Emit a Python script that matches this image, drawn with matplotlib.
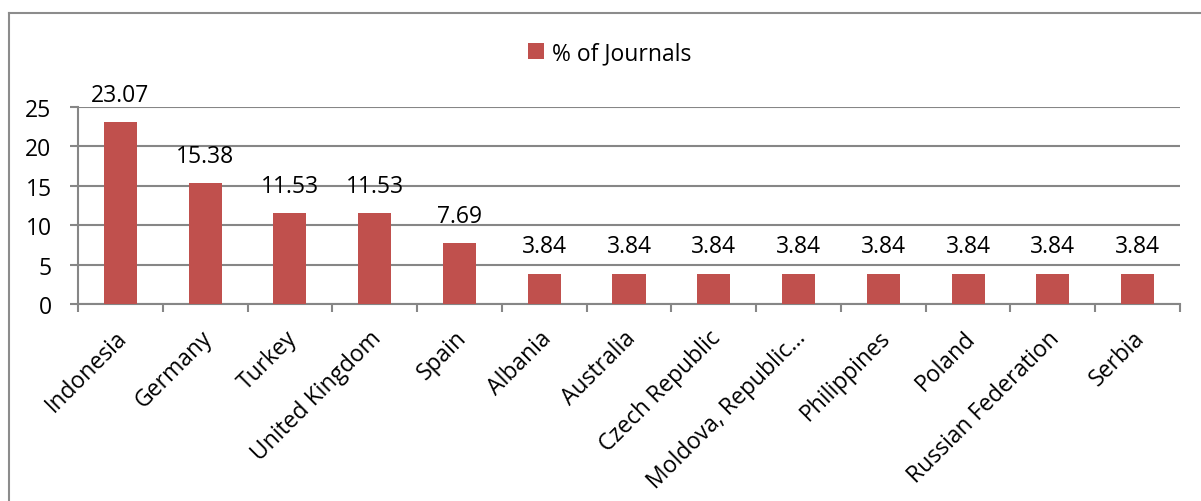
import matplotlib
matplotlib.use("Agg")
import matplotlib.pyplot as plt
from matplotlib.lines import Line2D
from matplotlib.patches import Patch
from matplotlib.transforms import ScaledTranslation

countries = ["Indonesia", "Germany", "Turkey", "United Kingdom", "Spain", "Albania",
             "Australia", "Czech Republic", "Moldova, Republic…", "Philippines",
             "Poland", "Russian Federation", "Serbia"]
share = [23.07, 15.38, 11.53, 11.53, 7.69, 3.84, 3.84, 3.84, 3.84, 3.84, 3.84, 3.84, 3.84]
yticks = [0, 5, 10, 15, 20, 25]
series_name = "% of Journals"

BAR = "#C0504D"
GRID = "#868686"
FS = 16.5
plt.rcParams["font.family"] = ["Open Sans", "DejaVu Sans"]

W, H = 1201, 502
fig = plt.figure(figsize=(W / 100, H / 100), dpi=100)

def fx(px):
    return px / W

def fy(py):
    return 1 - py / H

ax = fig.add_axes([fx(78), fy(305), fx(1180) - fx(78), fy(108) - fy(305)])

x = list(range(len(countries)))
ax.bar(x, share, width=0.39, color=BAR, zorder=3)
ax.set_xlim(-0.5, len(countries) - 0.5)
ax.set_ylim(0, 25)

for xi, v in zip(x, share):
    ax.annotate(f"{v:.2f}", (xi, v), xytext=(0, 11), textcoords="offset points",
                ha="center", va="bottom", fontsize=FS, color="black")

ax.set_yticks(yticks)
ax.set_yticklabels([str(t) for t in yticks], fontsize=FS)
ax.yaxis.grid(True, color=GRID, linewidth=1.5, zorder=0)
ax.set_axisbelow(True)

# category labels between boundary ticks
ax.set_xticks([i - 0.5 for i in range(len(countries) + 1)])
ax.set_xticklabels([])
ax.set_xticks(x, minor=True)
ax.set_xticklabels(countries, minor=True, rotation=45, ha="right",
                   rotation_mode="anchor", fontsize=FS)
ax.tick_params(axis="x", which="minor", length=0, pad=12)
ax.tick_params(axis="x", which="major", length=6, width=1.5, color=GRID, direction="out")
ax.tick_params(axis="y", length=6, width=1.5, color=GRID, direction="out", pad=13)

shift = ScaledTranslation(-5 / 100, -5 / 100, fig.dpi_scale_trans)
for lbl in ax.get_xticklabels(minor=True):
    lbl.set_transform(lbl.get_transform() + shift)

for side in ["top", "right"]:
    ax.spines[side].set_visible(False)
for side in ["left", "bottom"]:
    ax.spines[side].set_color(GRID)
    ax.spines[side].set_linewidth(1.5)

leg = fig.legend(handles=[Patch(facecolor=BAR, label=series_name)],
                 loc="center", bbox_to_anchor=(fx(610), fy(54)), frameon=False,
                 fontsize=FS, handlelength=0.7, handleheight=0.7, handletextpad=0.35)

# outer chart frame
fig.add_artist(Line2D([fx(9), fx(9)], [fy(14), 0], color="#8c8c8c", linewidth=1.5))
fig.add_artist(Line2D([fx(9), 1], [fy(14), fy(14)], color="#8c8c8c", linewidth=1.5))

fig.savefig("out.png", dpi=100, facecolor="white")
